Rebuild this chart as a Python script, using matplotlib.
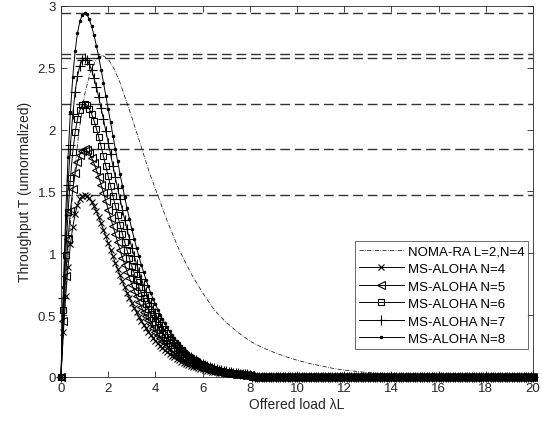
import numpy as np
import matplotlib
matplotlib.use("Agg")
import matplotlib.pyplot as plt

plt.rcParams['font.family'] = ['Liberation Sans', 'DejaVu Sans']

# Offered load grid for MS-ALOHA curves (step 0.1 from 0 to 20)
load = np.round(np.arange(0, 201) * 0.1, 1)

# MS-ALOHA throughput, lambda = 0.0 ... 8.0 (step 0.1); beyond 8 it is ~0
ms_n4 = [0, .362, .655, .889, 1.072, 1.213, 1.317, 1.390, 1.438, 1.464, 1.472, 1.465, 1.446, 1.417, 1.381,
         1.339, 1.292, 1.242, 1.190, 1.137, 1.083, 1.029, .975, .922, .871, .821, .772, .726, .681, .638,
         .598, .559, .522, .487, .454, .423, .394, .366, .340, .316, .293, .272, .252, .233, .216, .200,
         .185, .171, .158, .146, .135, .124, .115, .106, .098, .090, .083, .076, .070, .065, .060, .055,
         .050, .046, .042, .039, .036, .033, .030, .028, .026, .023, .021, .020, .018, .016, .015, .014,
         .012, .011, .011]
ms_n5 = [0, .452, .819, 1.111, 1.341, 1.516, 1.646, 1.738, 1.797, 1.830, 1.839, 1.831, 1.807, 1.771, 1.726,
         1.673, 1.615, 1.553, 1.488, 1.421, 1.353, 1.286, 1.219, 1.153, 1.088, 1.026, .965, .907, .851, .798,
         .747, .698, .652, .608, .567, .528, .492, .457, .425, .395, .366, .340, .315, .292, .270, .250,
         .231, .214, .197, .182, .168, .156, .143, .132, .122, .112, .104, .095, .088, .081, .075, .068,
         .063, .058, .053, .049, .045, .041, .038, .035, .032, .029, .027, .024, .022, .020, .019, .017,
         .015, .014, .013]
ms_n6 = [0, .543, .982, 1.333, 1.609, 1.820, 1.976, 2.086, 2.157, 2.195, 2.207, 2.197, 2.168, 2.126, 2.071,
         2.008, 1.938, 1.864, 1.785, 1.705, 1.624, 1.543, 1.463, 1.384, 1.306, 1.231, 1.159, 1.089, 1.022, .958,
         .896, .838, .782, .730, .681, .634, .590, .549, .510, .473, .440, .407, .378, .350, .324, .300,
         .277, .256, .237, .219, .202, .187, .172, .159, .146, .135, .124, .115, .106, .097, .089, .082,
         .076, .070, .064, .059, .054, .049, .046, .042, .038, .035, .032, .029, .027, .025, .022, .020,
         .019, .017, .016]
ms_n7 = [0, .634, 1.146, 1.555, 1.877, 2.123, 2.305, 2.433, 2.517, 2.561, 2.575, 2.563, 2.530, 2.480, 2.416,
         2.343, 2.261, 2.174, 2.083, 1.989, 1.895, 1.800, 1.707, 1.614, 1.524, 1.436, 1.352, 1.271, 1.192, 1.117,
         1.046, .978, .913, .852, .795, .740, .689, .641, .595, .552, .513, .475, .441, .408, .378, .350,
         .323, .299, .277, .256, .236, .218, .201, .186, .171, .158, .145, .134, .123, .113, .104, .096,
         .088, .081, .074, .069, .063, .057, .053, .049, .045, .041, .037, .034, .032, .029, .026, .024,
         .022, .020, .019]
ms_n8 = [0, .724, 1.310, 1.778, 2.145, 2.426, 2.634, 2.781, 2.876, 2.927, 2.943, 2.930, 2.891, 2.834, 2.762,
         2.678, 2.584, 2.485, 2.380, 2.274, 2.166, 2.058, 1.950, 1.845, 1.742, 1.642, 1.545, 1.452, 1.362, 1.277,
         1.195, 1.118, 1.043, .974, .908, .846, .787, .732, .680, .631, .586, .543, .504, .466, .432, .400,
         .370, .342, .316, .292, .270, .249, .230, .212, .195, .180, .166, .153, .141, .130, .119, .110,
         .101, .093, .085, .078, .072, .066, .061, .056, .051, .046, .042, .039, .036, .033, .030, .027,
         .025, .022, .021]
tail_zero = [0.0] * 120  # lambda = 8.1 ... 20.0

# NOMA-RA L=2, N=4 curve
noma_load = [0, 0.25, 0.5, 0.75, 1.0, 1.25, 1.5, 1.75, 2.0, 2.25, 2.5, 2.75, 3.0, 3.25, 3.5, 3.75, 4.0,
             4.5, 5.0, 5.5, 6.0, 6.5, 7.0, 7.5, 8.0, 8.5, 9.0, 9.5, 10.0, 10.5, 11.0, 11.5, 12.0, 12.5,
             13.0, 14.0, 15.0, 16.0, 17.0, 18.0, 19.0, 20.0]
noma_T = [0, 0.85, 1.50, 1.97, 2.28, 2.47, 2.57, 2.60, 2.57, 2.49, 2.38, 2.24, 2.10, 1.95, 1.80, 1.65, 1.52,
          1.26, 1.03, 0.84, 0.68, 0.54, 0.44, 0.36, 0.29, 0.24, 0.20, 0.165, 0.135, 0.11, 0.09, 0.07, 0.055,
          0.045, 0.035, 0.02, 0.012, 0.007, 0.004, 0.002, 0.001, 0.0]

# Horizontal reference levels (peak throughputs)
peak_levels = [2.94, 2.61, 2.575, 2.207, 1.839, 1.472]

fig = plt.figure(figsize=(5.42, 4.27), dpi=100)
ax = fig.add_axes([0.1125, 0.115, 0.871, 0.869])

for lv in peak_levels:
    ax.axhline(lv, color='#333333', lw=1.0, ls=(0, (7, 3.5)), zorder=1)

ax.plot(noma_load, noma_T, color='black', lw=0.5, ls=(0, (6, 2, 1, 2)), label='NOMA-RA L=2,N=4', zorder=2)

series = [(ms_n4, 'x', 5.0, 'MS-ALOHA N=4'),
          (ms_n5, '<', 5.4, 'MS-ALOHA N=5'),
          (ms_n6, 's', 5.0, 'MS-ALOHA N=6'),
          (ms_n7, '+', 7.4, 'MS-ALOHA N=7'),
          (ms_n8, '.', 3.4, 'MS-ALOHA N=8')]
for vals, mk, ms, lab in series:
    y = np.array(list(vals) + tail_zero)
    ax.plot(load, y, color='black', lw=0.7, marker=mk, ms=ms, mfc='none' if mk in ('<', 's') else 'black',
            mec='black', mew=0.8, label=lab, zorder=3, clip_on=False)

ax.set_xlim(0, 20)
ax.set_ylim(0, 3)
ax.set_xticks(np.arange(0, 21, 2))
ax.set_yticks([0, 0.5, 1, 1.5, 2, 2.5, 3])
ax.set_yticklabels(['0', '0.5', '1', '1.5', '2', '2.5', '3'])
ax.tick_params(direction='in', top=True, right=True, length=4, width=0.6, labelsize=9.5, colors='#262626')
for s in ax.spines.values():
    s.set_linewidth(0.6)
    s.set_color('#262626')

ax.set_xlabel('Offered load λL', fontsize=10, color='#262626', labelpad=2)
ax.set_ylabel('Throughput T (unnormalized)', fontsize=10, color='#262626', labelpad=4)

leg = ax.legend(loc='lower right', bbox_to_anchor=(0.99, 0.075), fontsize=9.5, frameon=True, fancybox=False,
                edgecolor='#262626', handlelength=3.4, handletextpad=0.3, borderpad=0.3, labelspacing=0.4,
                borderaxespad=0.0)
leg.get_frame().set_linewidth(0.6)
leg.set_zorder(5)

fig.savefig('out.png', dpi=100)
